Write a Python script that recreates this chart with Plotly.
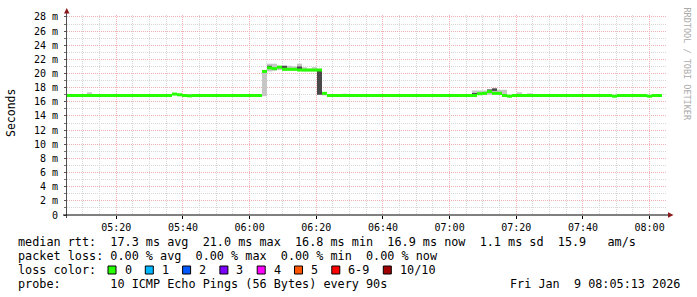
import plotly.graph_objects as go
import pandas as pd

# ---------------- data ----------------
START = "2026-01-09 05:05:13"
END = "2026-01-09 08:05:13"
STEP_S = 90

median_ms = [
    16.9, 16.9, 16.9, 16.9, 16.9, 16.9, 16.9, 16.9, 16.9, 16.9,
    16.9, 16.9, 16.9, 16.9, 16.9, 16.9, 16.9, 16.9, 16.9, 16.9,
    16.9, 17.1, 17.0, 16.9, 16.85, 16.9, 16.9, 16.9, 16.9, 16.9,
    16.9, 16.9, 16.9, 16.9, 16.9, 16.9, 16.9, 16.9, 16.9, 20.3,
    20.8, 20.7, 20.9, 20.6, 20.6, 20.6, 20.5, 20.5, 20.5, 20.5,
    20.5, 17.2, 16.9, 16.9, 16.9, 16.9, 16.9, 16.9, 16.9, 16.9,
    16.9, 16.9, 16.9, 16.9, 16.9, 16.9, 16.9, 16.9, 16.9, 16.9,
    16.9, 16.9, 16.9, 16.9, 16.9, 16.9, 16.9, 16.9, 16.9, 16.9,
    16.9, 16.9, 17.15, 17.2, 17.45, 17.2, 17.2, 16.9, 16.8, 16.9,
    16.9, 16.9, 16.9, 16.9, 16.9, 16.9, 16.9, 16.9, 16.9, 16.9,
    16.9, 16.9, 16.9, 16.9, 16.9, 16.9, 16.9, 16.9, 16.9, 16.8,
    16.9, 16.9, 16.9, 16.9, 16.9, 16.9, 16.8, 16.9, 16.9,
]

smoke_steps = [4, 24, 39, 40, 41, 42, 43, 44, 45, 46, 47, 48, 49, 50, 51, 55, 65,
               81, 82, 83, 84, 85, 86, 87, 90, 92]
smoke_lo = [16.9, 16.85, 16.8, 20.3, 20.4, 20.5, 20.4, 20.4, 20.4, 20.4, 20.3, 20.3, 20.3,
            17.0, 16.9, 16.9, 16.7, 16.9, 17.0, 17.0, 17.0, 17.1, 17.0, 16.9, 16.9, 16.9]
smoke_hi = [17.35, 17.05, 20.4, 21.4, 21.4, 21.1, 21.1, 21.1, 21.0, 21.4, 20.9, 20.7, 20.9,
            20.7, 17.3, 17.15, 16.9, 17.6, 17.6, 17.6, 17.75, 17.9, 17.7, 17.7, 17.35, 17.2]

dark_steps = [40, 43, 46, 50, 81, 84, 85]
dark_lo = [20.8, 20.8, 20.6, 17.0, 17.0, 17.5, 17.55]
dark_hi = [21.1, 21.1, 21.0, 20.5, 17.15, 17.75, 17.9]

y_tick_values = [0, 2, 4, 6, 8, 10, 12, 14, 16, 18, 20, 22, 24, 26, 28]
y_tick_labels = ["0", "2 m", "4 m", "6 m", "8 m", "10 m", "12 m", "14 m", "16 m",
                 "18 m", "20 m", "22 m", "24 m", "26 m", "28 m"]
x_tick_labels = ["05:20", "05:40", "06:00", "06:20", "06:40", "07:00", "07:20", "07:40", "08:00"]

loss_labels = ["0", "1", "2", "3", "4", "5", "6-9", "10/10"]
loss_colors = ["#26ff00", "#00b8ff", "#0059ff", "#7e00ff", "#ff00ff", "#ff5500", "#ff0000", "#a00000"]

legend_rtt = "median rtt:  17.3 ms avg  21.0 ms max  16.8 ms min  16.9 ms now  1.1 ms sd  15.9   am/s"
legend_loss = "packet loss: 0.00 % avg  0.00 % max  0.00 % min  0.00 % now"
legend_color = "loss color:"
legend_probe = "probe:       10 ICMP Echo Pings (56 Bytes) every 90s"
legend_date = "Fri Jan  9 08:05:13 2026"
y_title = "Seconds"
watermark = "RRDTOOL / TOBI OETIKER"

# ---------------- geometry / style ----------------
W, H = 697, 297
L, R, T, B = 67, 30, 15, 82
PW, PH = W - L - R, H - T - B
YMAX = 28.28
LINE_MS = 3 * YMAX / PH          # 3 px thick median line
MONO = "DejaVu Sans Mono"


def px(x):
    return (x - L) / PW


def py(y):
    return (H - B - y) / PH


t0 = pd.Timestamp(START)
centers = [t0 + pd.Timedelta(seconds=STEP_S * (i + 0.5)) for i in range(len(median_ms))]
bar_w = STEP_S * 1000

fig = go.Figure()

fig.add_trace(go.Bar(
    x=[centers[i] for i in smoke_steps],
    base=smoke_lo,
    y=[h - l for l, h in zip(smoke_lo, smoke_hi)],
    width=bar_w, marker=dict(color="#c6c6c6", line=dict(width=0)),
    hoverinfo="skip", showlegend=False))

fig.add_trace(go.Bar(
    x=[centers[i] for i in dark_steps],
    base=dark_lo,
    y=[h - l for l, h in zip(dark_lo, dark_hi)],
    width=bar_w, marker=dict(color="#4a4a4a", line=dict(width=0)),
    hoverinfo="skip", showlegend=False))

fig.add_trace(go.Bar(
    x=centers,
    base=[m - LINE_MS / 2 for m in median_ms],
    y=[LINE_MS] * len(median_ms),
    width=bar_w, marker=dict(color="#26ff00", line=dict(width=0)),
    hoverinfo="skip", showlegend=False))

x_tick_vals = [pd.Timestamp("2026-01-09 " + s) for s in x_tick_labels]

fig.update_layout(
    width=W, height=H,
    margin=dict(l=L, r=R, t=T, b=B, pad=0),
    paper_bgcolor="white", plot_bgcolor="white",
    barmode="overlay", showlegend=False,
    font=dict(family=MONO, size=10, color="#000000"),
    xaxis=dict(
        type="date", range=[START, END],
        tickmode="array", tickvals=x_tick_vals, ticktext=x_tick_labels,
        showgrid=True, gridcolor="#eeb0b0", griddash="1px,1px", gridwidth=1,
        ticks="outside", ticklen=3, tickcolor="#000000",
        tickfont=dict(family=MONO, size=10, color="#000000"),
        minor=dict(dtick=300000, tick0="2026-01-09 05:05:00", showgrid=True,
                   gridcolor="#d8d8d8", griddash="1px,1px", ticks=""),
        showline=False, zeroline=False, fixedrange=True,
    ),
    yaxis=dict(
        range=[0, YMAX],
        tickmode="array", tickvals=y_tick_values, ticktext=y_tick_labels,
        showgrid=True, gridcolor="#eeb0b0", griddash="1px,1px", gridwidth=1,
        ticks="outside", ticklen=2, tickcolor="#555555",
        ticklabelstandoff=4,
        tickfont=dict(family=MONO, size=10, color="#000000"),
        minor=dict(dtick=1, tick0=0, showgrid=True, gridcolor="#d8d8d8",
                   griddash="1px,1px", ticks="outside", ticklen=2, tickcolor="#777777"),
        showline=False, zeroline=False, fixedrange=True,
    ),
)

shapes = []
# y axis line and arrow
shapes.append(dict(type="line", xref="paper", yref="paper",
                   x0=px(66.5), x1=px(66.5), y0=py(218), y1=py(12),
                   line=dict(color="#505050", width=1)))
shapes.append(dict(type="path", xref="paper", yref="paper",
                   path=f"M {px(64)} {py(13.5)} L {px(69.5)} {py(13.5)} L {px(66.75)} {py(8)} Z",
                   fillcolor="#8b1a1a", line=dict(width=0)))
# x axis line and arrow
shapes.append(dict(type="line", xref="paper", yref="paper",
                   x0=px(63), x1=px(669), y0=py(215), y1=py(215),
                   line=dict(color="#000000", width=1)))
shapes.append(dict(type="path", xref="paper", yref="paper",
                   path=f"M {px(668)} {py(212.2)} L {px(668)} {py(217.8)} L {px(673.5)} {py(215)} Z",
                   fillcolor="#8b1a1a", line=dict(width=0)))

annotations = []


def text_at(x, y, s, anchor="left", size=11.8, color="#000000", angle=0):
    annotations.append(dict(
        x=px(x), y=py(y), xref="paper", yref="paper",
        text=s.replace(" ", "\u00a0"), showarrow=False,
        xanchor=anchor, yanchor="middle", textangle=angle,
        font=dict(family=MONO, size=size, color=color)))


ROW1, ROW2, ROW3, ROW4 = 241.5, 256, 270, 284
LX = 16
CW = 7.1
text_at(LX, ROW1, legend_rtt)
text_at(LX, ROW2, legend_loss)
text_at(LX, ROW3, legend_color)
text_at(LX, ROW4, legend_probe)
text_at(681.5, ROW4, legend_date, anchor="right")

bx = 108
for lab, col in zip(loss_labels, loss_colors):
    shapes.append(dict(type="rect", xref="paper", yref="paper",
                       x0=px(bx), x1=px(bx + 8), y0=py(274), y1=py(266),
                       fillcolor=col, line=dict(color="#000000", width=1)))
    text_at(bx + 14.5, ROW3, lab)
    bx += 37.3 + CW * (len(lab) - 1)

# y title and watermark
annotations.append(dict(x=px(11), y=py(113), xref="paper", yref="paper",
                        text=y_title, showarrow=False, textangle=-90,
                        xanchor="center", yanchor="middle",
                        font=dict(family=MONO, size=11.5, color="#000000")))
annotations.append(dict(x=px(686), y=py(5), xref="paper", yref="paper",
                        text=watermark.replace(" ", "\u00a0"), showarrow=False, textangle=90,
                        xanchor="center", yanchor="top",
                        font=dict(family=MONO, size=8.5, color="#aaaaaa")))

fig.update_layout(shapes=shapes, annotations=annotations)
fig.write_html("out.html")
